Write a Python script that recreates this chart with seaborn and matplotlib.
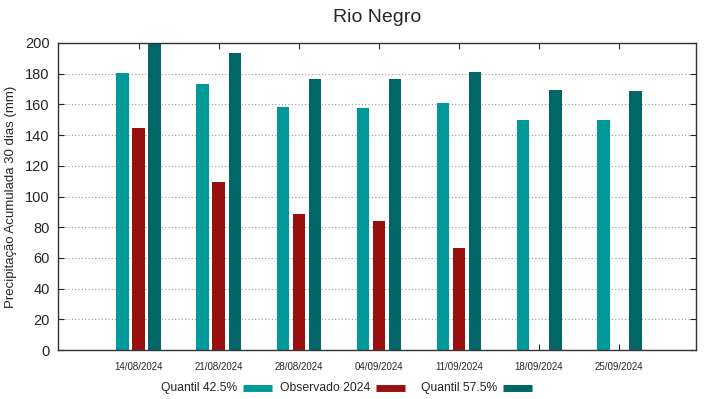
import matplotlib
matplotlib.use('Agg')
import matplotlib.pyplot as plt
from matplotlib.lines import Line2D
import numpy as np
import pandas as pd
import seaborn as sns

datas = ['14/08/2024', '21/08/2024', '28/08/2024', '04/09/2024',
         '11/09/2024', '18/09/2024', '25/09/2024']
quantil_425 = [180.3, 173.3, 158.3, 157.7, 161.0, 149.7, 149.7]
observado   = [144.5, 109.4, 88.6, 84.0, 66.4, np.nan, np.nan]
quantil_575 = [200.0, 193.5, 176.5, 176.5, 181.0, 169.3, 168.6]

series = ['Quantil 42.5%', 'Observado 2024', 'Quantil 57.5%']
cores  = ['#009999', '#991010', '#006666']

df = pd.DataFrame({
    'data': datas * 3,
    'serie': np.repeat(series, len(datas)),
    'valor': quantil_425 + observado + quantil_575,
})

sns.set_style('ticks')
plt.rcParams['font.family'] = ['Liberation Sans', 'DejaVu Sans']

W, H = 719, 399
fig = plt.figure(figsize=(W / 100, H / 100), dpi=100)
ax = fig.add_axes([58 / W, 49 / H, 638 / W, 307 / H])

sns.barplot(
    data=df, x='data', y='valor', hue='serie', order=datas, hue_order=series,
    palette=cores, saturation=1, width=0.6, gap=0.2, errorbar=None,
    linewidth=0, ax=ax, legend=False,
)

ax.set_xlim(-1.01, 6.96)
ax.set_ylim(0, 200)
ax.set_yticks(range(0, 201, 20))
ax.yaxis.grid(True, linestyle=(0, (1, 2)), color='#999999', linewidth=0.8)
ax.set_axisbelow(True)
ax.tick_params(axis='y', direction='in', right=True, labelsize=10.5, length=4, pad=6)
ax.tick_params(axis='x', direction='in', top=True, labelsize=7, length=4, pad=9)
for s in ax.spines.values():
    s.set_color('#333333')
    s.set_linewidth(1)

ax.set_xlabel('')
ax.set_ylabel('Precipitação Acumulada 30 dias (mm)', fontsize=9.5)
ax.yaxis.set_label_coords((17 - 58) / 638, 0.5)
ax.set_title('Rio Negro', fontsize=14, pad=15)

# legenda estilo gnuplot: texto e amostra à direita
leg_y = 1 - 388 / H
text_right = [237, 370, 497]
for nome, cor, xr in zip(series, cores, text_right):
    fig.text(xr / W, leg_y, nome, ha='right', va='center', fontsize=8.75)
    fig.add_artist(Line2D([(xr + 6) / W, (xr + 35) / W], [leg_y, leg_y],
                          color=cor, lw=5, solid_capstyle='butt',
                          transform=fig.transFigure))

fig.savefig('out.png', dpi=100)
